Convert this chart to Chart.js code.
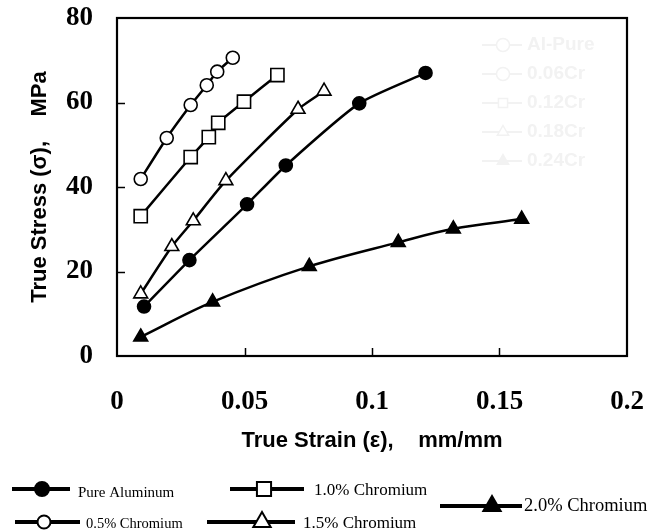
<!DOCTYPE html>
<html>
<head>
<meta charset="utf-8">
<script src="https://cdn.jsdelivr.net/npm/chart.js@4.4.1/dist/chart.umd.min.js"></script>
<style>
html,body{margin:0;padding:0;background:#fff;}
canvas{display:block;}
</style>
</head>
<body>
<canvas id="c" width="659" height="531"></canvas>
<script>
// ---- data ----
const xTickLabels = ['0', '0.05', '0.1', '0.15', '0.2'];
const yTickLabels = ['0', '20', '40', '60', '80'];

const seriesNames = ['Pure Aluminum', '0.5% Chromium', '1.0% Chromium', '1.5% Chromium', '2.0% Chromium'];
const fadedLegendNames = ['Al-Pure', '0.06Cr', '0.12Cr', '0.18Cr', '0.24Cr'];

const pureAlStrain = [0.0106, 0.0284, 0.051, 0.0662, 0.095, 0.121];
const pureAlStress = [11.7, 22.7, 35.9, 45.1, 59.8, 67.0];

const cr05Strain = [0.0093, 0.0195, 0.0289, 0.0352, 0.0393, 0.0454];
const cr05Stress = [41.9, 51.6, 59.4, 64.1, 67.3, 70.6];

const cr10Strain = [0.0093, 0.0289, 0.036, 0.0397, 0.0498, 0.0629];
const cr10Stress = [33.1, 47.1, 51.8, 55.2, 60.2, 66.5];

const cr15Strain = [0.0093, 0.0215, 0.0299, 0.0427, 0.071, 0.0812];
const cr15Stress = [14.7, 25.9, 32.0, 41.5, 58.4, 62.7];

const cr20Strain = [0.0093, 0.0375, 0.0754, 0.1103, 0.1319, 0.1587];
const cr20Stress = [4.5, 12.8, 21.2, 26.9, 30.1, 32.4];

function pts(xs, ys) { return xs.map((x, i) => ({ x: x, y: ys[i] })); }

function ds(label, xs, ys, style, radius, fill, tension) {
  return {
    label: label,
    data: pts(xs, ys),
    showLine: true,
    borderColor: '#000',
    borderWidth: 2.5,
    pointStyle: style,
    pointRadius: radius,
    pointHoverRadius: radius,
    pointBackgroundColor: fill,
    pointBorderColor: '#000',
    pointBorderWidth: 1.6,
    tension: tension,
    clip: false
  };
}

const frame = {
  id: 'frame',
  beforeDraw(chart) {
    const c = chart.ctx;
    c.save();
    c.fillStyle = '#fff';
    c.fillRect(0, 0, chart.width, chart.height);
    c.restore();
  },
  beforeDatasetsDraw(chart) {
    const c = chart.ctx;
    c.save();
    // faded legend inside plot
    const faint = '#f2f2f2';
    c.strokeStyle = faint;
    c.lineWidth = 2;
    c.font = 'bold 19px "Liberation Sans", Arial, sans-serif';
    c.textBaseline = 'middle';
    const styles = ['circle', 'circle', 'rect', 'triangle', 'triangleF'];
    for (let i = 0; i < 5; i++) {
      const y = 45 + i * 29;
      c.beginPath(); c.moveTo(482, y); c.lineTo(522, y); c.stroke();
      drawMarker(c, styles[i], 503, y, 6.5, '#fff', faint, 1.5);
      c.fillStyle = faint;
      c.fillText(fadedLegendNames[i], 527, y);
    }
    c.restore();
  },
  afterDatasetsDraw(chart) {
    const c = chart.ctx, a = chart.chartArea;
    const xs = chart.scales.x, ys = chart.scales.y;
    c.save();
    c.strokeStyle = '#000';
    c.lineWidth = 2.2;
    c.strokeRect(a.left, a.top, a.right - a.left, a.bottom - a.top);
    c.lineWidth = 1.5;
    xs.ticks.forEach((t, i) => {
      if (i === 0 || i === xs.ticks.length - 1) return;
      const px = Math.round(xs.getPixelForValue(t.value)) + 0.5;
      c.beginPath(); c.moveTo(px, a.bottom); c.lineTo(px, a.bottom - 8); c.stroke();
    });
    ys.ticks.forEach((t, i) => {
      if (i === 0 || i === ys.ticks.length - 1) return;
      const py = Math.round(ys.getPixelForValue(t.value)) + 0.5;
      c.beginPath(); c.moveTo(a.left, py); c.lineTo(a.left + 8, py); c.stroke();
    });
    c.restore();
  },
  afterDraw(chart) {
    const c = chart.ctx;
    c.save();
    c.strokeStyle = '#000';
    c.lineCap = 'butt';
    const items = [
      { name: seriesNames[0], style: 'circle', fill: '#000', x1: 12, x2: 70, mx: 42, y: 489, tx: 78, ty: 493, fs: 15, r: 7 },
      { name: seriesNames[1], style: 'circle', fill: '#fff', x1: 15, x2: 80, mx: 44, y: 522, tx: 86, ty: 524, fs: 14.5, r: 6.5 },
      { name: seriesNames[2], style: 'rect', fill: '#fff', x1: 230, x2: 304, mx: 264, y: 489, tx: 314, ty: 491, fs: 17, r: 10 },
      { name: seriesNames[3], style: 'triangle', fill: '#fff', x1: 207, x2: 295, mx: 262, y: 522, tx: 303, ty: 524, fs: 17, r: 10 },
      { name: seriesNames[4], style: 'triangleF', fill: '#000', x1: 440, x2: 522, mx: 492, y: 506, tx: 524, ty: 506, fs: 18.5, r: 10 }
    ];
    items.forEach(it => {
      c.lineWidth = 4;
      c.beginPath(); c.moveTo(it.x1, it.y); c.lineTo(it.x2, it.y); c.stroke();
      drawMarker(c, it.style, it.mx, it.y, it.r, it.fill, '#000', 2);
      c.fillStyle = '#000';
      c.font = it.fs + 'px "Liberation Serif", "Times New Roman", serif';
      c.textBaseline = 'middle';
      c.textAlign = 'left';
      c.fillText(it.name, it.tx, it.ty);
    });
    c.restore();
  }
};

function drawMarker(c, style, x, y, r, fill, stroke, lw) {
  c.save();
  c.lineWidth = lw;
  c.strokeStyle = stroke;
  c.fillStyle = fill;
  c.beginPath();
  if (style === 'circle') {
    c.arc(x, y, r, 0, Math.PI * 2);
  } else if (style === 'rect') {
    const s = r * Math.SQRT1_2;
    c.rect(x - s, y - s, 2 * s, 2 * s);
  } else {
    c.moveTo(x, y - r);
    c.lineTo(x + r * 0.866, y + r / 2);
    c.lineTo(x - r * 0.866, y + r / 2);
    c.closePath();
    if (style === 'triangleF') c.fillStyle = stroke;
  }
  c.fill();
  c.stroke();
  c.restore();
}

const tickFont = { family: '"Liberation Serif", "Times New Roman", serif', size: 27, weight: 'bold' };
const titleFont = { family: '"Liberation Sans", Arial, sans-serif', size: 22, weight: 'bold' };

new Chart(document.getElementById('c'), {
  type: 'scatter',
  data: {
    datasets: [
      ds(seriesNames[0], pureAlStrain, pureAlStress, 'circle', 6.5, '#000', 0.2),
      ds(seriesNames[1], cr05Strain, cr05Stress, 'circle', 6.5, '#fff', 0.15),
      ds(seriesNames[2], cr10Strain, cr10Stress, 'rect', 9.3, '#fff', 0.15),
      ds(seriesNames[3], cr15Strain, cr15Stress, 'triangle', 8, '#fff', 0.2),
      ds(seriesNames[4], cr20Strain, cr20Stress, 'triangle', 8, '#000', 0.35)
    ]
  },
  options: {
    responsive: false,
    animation: false,
    layout: { padding: { top: 18, right: 32, left: 0, bottom: 0 } },
    plugins: { legend: { display: false }, tooltip: { enabled: false } },
    scales: {
      x: {
        type: 'linear',
        min: 0, max: 0.2,
        grid: { display: false, drawTicks: false },
        border: { display: false },
        ticks: {
          stepSize: 0.05,
          color: '#000',
          font: tickFont,
          padding: 30,
          maxRotation: 0,
          autoSkip: false,
          callback: (v, i) => xTickLabels[i]
        },
        title: {
          display: true,
          text: 'True Strain (\u03b5),    mm/mm',
          color: '#000',
          font: titleFont,
          padding: { top: 0, bottom: 77 }
        },
        afterFit: s => { s.height = 175; s.paddingLeft = 0; s.paddingRight = 0; }
      },
      y: {
        type: 'linear',
        min: 0, max: 80,
        grid: { display: false, drawTicks: false },
        border: { display: false },
        ticks: {
          stepSize: 20,
          color: '#000',
          font: tickFont,
          padding: 24,
          callback: (v, i) => yTickLabels[i]
        },
        title: {
          display: true,
          text: 'True Stress (\u03c3),    MPa',
          color: '#000',
          font: titleFont,
          padding: { top: 27, bottom: 0 }
        },
        afterFit: s => { s.width = 117; s.paddingTop = 0; s.paddingBottom = 0; }
      }
    }
  },
  plugins: [frame]
});
</script>
</body>
</html>
